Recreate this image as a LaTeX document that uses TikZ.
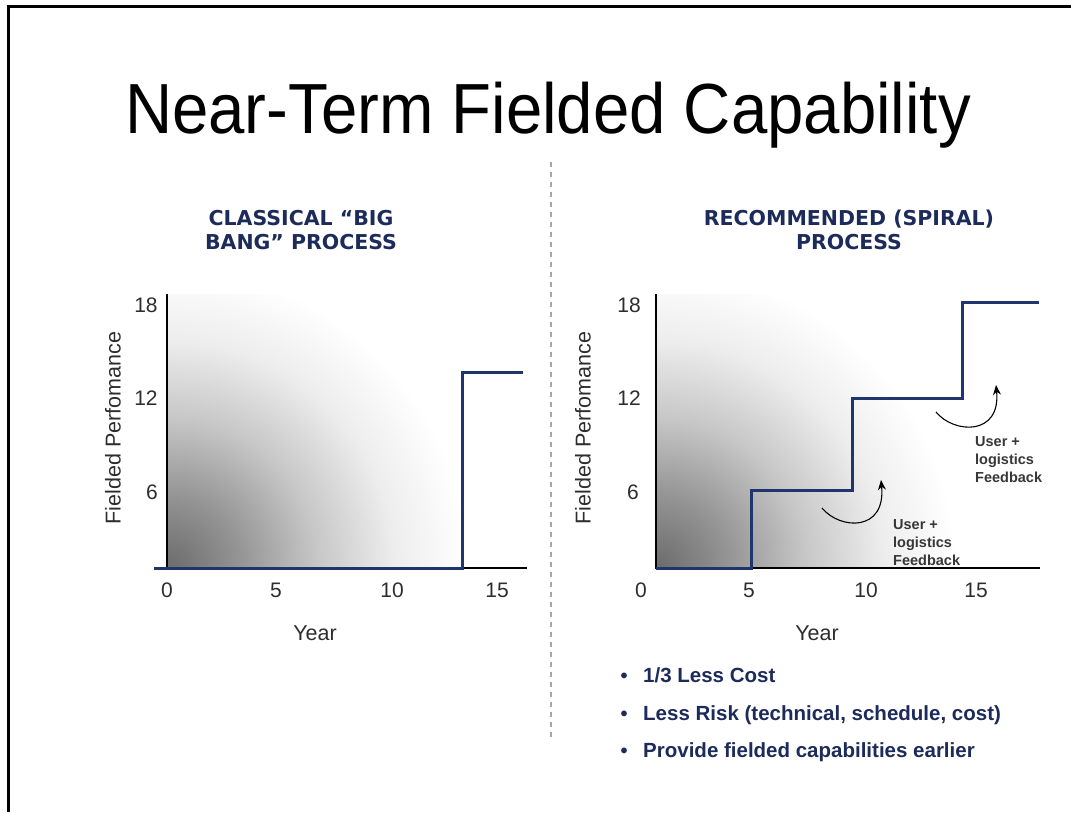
\documentclass[tikz,border=0pt]{standalone}
\usepackage{fontspec}
\setmainfont{Liberation Sans}
\newfontfamily\dvsans{DejaVu Sans}
\usetikzlibrary{arrows.meta}
\definecolor{navy}{RGB}{28,43,90}
\definecolor{stepblue}{RGB}{32,52,110}
\definecolor{fbgray}{RGB}{55,55,55}
\definecolor{tickgray}{RGB}{45,45,45}
\pgfdeclareradialshading{cornerfade}{\pgfpoint{0bp}{0bp}}{color(0bp)=(black!58); color(6bp)=(black!42); color(12.5bp)=(black!22); color(19bp)=(black!7); color(25bp)=(white); color(50bp)=(white)}
\tikzset{
  axisline/.style={line width=1.1pt, black},
  stepline/.style={line width=3pt, stepblue, line join=miter},
  ticklab/.style={font=\fontsize{21}{24}\selectfont, text=tickgray, inner sep=0pt},
  axtitle/.style={font=\fontsize{21.5}{24}\selectfont, text=tickgray, inner sep=0pt},
  chtitle/.style={font=\dvsans\bfseries\fontsize{20.5}{24}\selectfont, text=navy, align=center, inner sep=0pt, anchor=north},
  fbtext/.style={font=\bfseries\fontsize{14.5}{18}\selectfont, text=fbgray, align=left, inner sep=0pt, anchor=north west},
  fbarrow/.style={line width=1.1pt, black, -{Stealth[length=10pt,width=8pt]}},
  bullettext/.style={font=\bfseries\fontsize{20.5}{24}\selectfont, text=navy, inner sep=0pt, anchor=base west},
  bulletdot/.style={font=\bfseries\fontsize{20}{24}\selectfont, text=navy, inner sep=0pt, anchor=base},
}
\begin{document}
\begin{tikzpicture}[x=1pt,y=-1pt]
\useasboundingbox (0,0) rectangle (1071,812);
% frame
\draw[line width=3pt] (8.5,812) -- (8.5,6.5) -- (1071,6.5);
% title
\node[anchor=base, inner sep=0pt, font=\fontsize{71}{80}\selectfont] (title) at (548,133) {\scalebox{0.92}[1]{Near-Term Fielded Capability}};
% divider
\coordinate (divtop) at (551,162);
\coordinate (divbot) at (551,740);
\draw[black!35, line width=2pt, dash pattern=on 4.5pt off 5.5pt] (divtop) -- (divbot);

% ---------- left chart ----------
\begin{scope}
\clip (167,294) rectangle (527,568);
\shade[shading=cornerfade] (167,568) circle[radius=300pt];
\end{scope}
\coordinate (Ltop) at (167,294);
\coordinate (Lo) at (167,568);
\coordinate (Lright) at (527,568);
\draw[axisline] (Ltop) -- (Lo) -- (Lright);
\draw[stepline] (154,568) -- (462,568) -- (462,372) -- (523,372);
\node[chtitle] (Ltitle) at (301,210) {CLASSICAL “BIG\\BANG” PROCESS};
\node[ticklab] (L0) at (167,590) {0};
\node[ticklab] (L5) at (276,590) {5};
\node[ticklab] (L10) at (392,590) {10};
\node[ticklab] (L15) at (497,590) {15};
\node[ticklab] (L18) at (146,305) {18};
\node[ticklab] (L12) at (146,398) {12};
\node[ticklab] (L6) at (152,492) {6};
\node[axtitle] (Lyear) at (315,633) {Year};
\node[axtitle, rotate=90] (Lylab) at (113,428) {Fielded Perfomance};

% ---------- right chart ----------
\begin{scope}
\clip (656,294) rectangle (1040,568);
\shade[shading=cornerfade] (656,568) circle[radius=300pt];
\end{scope}
\coordinate (Rtop) at (656,294);
\coordinate (Ro) at (656,568);
\coordinate (Rright) at (1040,568);
\draw[axisline] (Rtop) -- (Ro) -- (Rright);
\draw[stepline] (656,568) -- (751,568) -- (751,490) -- (852,490) -- (852,398) -- (962,398) -- (962,302) -- (1039,302);
\node[chtitle] (Rtitle) at (849,210) {RECOMMENDED (SPIRAL)\\PROCESS};
\node[ticklab] (R0) at (641,590) {0};
\node[ticklab] (R5) at (749,590) {5};
\node[ticklab] (R10) at (866,590) {10};
\node[ticklab] (R15) at (976,590) {15};
\node[ticklab] (R18) at (629,305) {18};
\node[ticklab] (R12) at (629,398) {12};
\node[ticklab] (R6) at (633,492) {6};
\node[axtitle] (Ryear) at (817,633) {Year};
\node[axtitle, rotate=90] (Rylab) at (583,428) {Fielded Perfomance};

% feedback arrows
\coordinate (a1s) at (822,508);
\coordinate (a1e) at (881,480);
\draw[fbarrow] (a1s) .. controls (840,530) and (886,532) .. (a1e);
\coordinate (a2s) at (936,412);
\coordinate (a2e) at (996,385);
\draw[fbarrow] (a2s) .. controls (954,434) and (1001,436) .. (a2e);
\node[fbtext] (fb1) at (893,519) {User +\\logistics\\Feedback};
\node[fbtext] (fb2) at (975,436) {User +\\logistics\\Feedback};

% bullets
\node[bulletdot] (d1) at (624,682) {•};
\node[bullettext] (b1) at (643,682) {1/3 Less Cost};
\node[bulletdot] (d2) at (624,720) {•};
\node[bullettext] (b2) at (643,720) {Less Risk (technical, schedule, cost)};
\node[bulletdot] (d3) at (624,757) {•};
\node[bullettext] (b3) at (643,757) {Provide fielded capabilities earlier};
\end{tikzpicture}
\end{document}
